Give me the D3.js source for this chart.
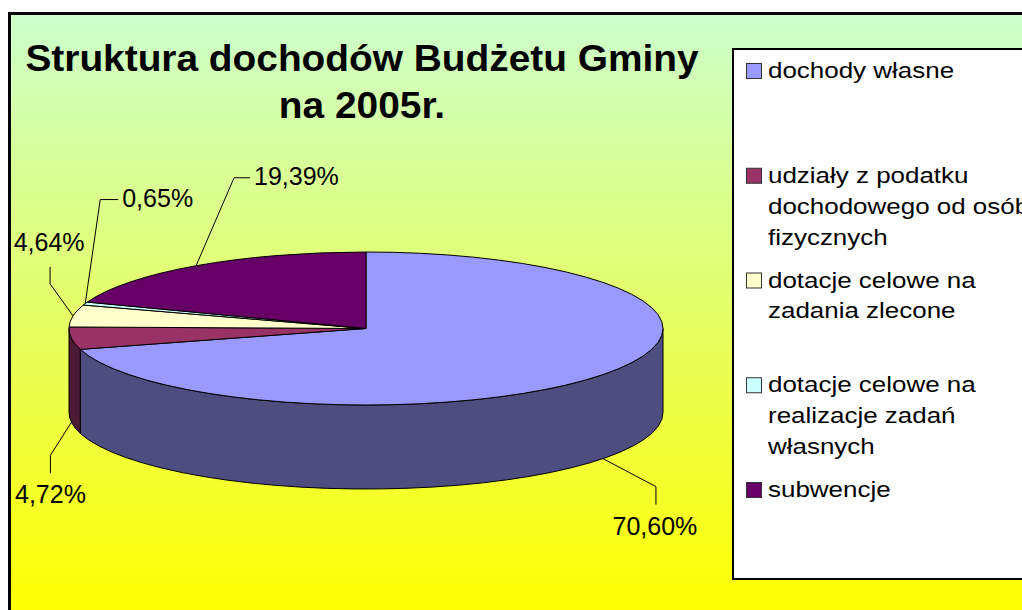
<!DOCTYPE html>
<html>
<head>
<meta charset="utf-8">
<script src="https://cdn.jsdelivr.net/npm/d3@7"></script>
<style>
  body { margin: 0; background: #fff; }
  svg { display: block; font-family: Arial, "Liberation Sans", sans-serif; }
</style>
</head>
<body>
<svg width="1022" height="610"></svg>
<script>
// dane wykresu
var categories = ["dochody własne",
                  "udziały z podatku dochodowego od osób fizycznych",
                  "dotacje celowe na zadania zlecone",
                  "dotacje celowe na realizacje zadań własnych",
                  "subwencje"];
var values = [70.60, 4.72, 4.64, 0.65, 19.39];
var labels = ["70,60%", "4,72%", "4,64%", "0,65%", "19,39%"];
var colors = ["#9999FF", "#993366", "#FFFFCC", "#CCFFFF", "#660066"];
var titleLines = ["Struktura dochodów Budżetu Gminy", "na 2005r."];

var svg = d3.select("svg");

// tło z gradientem
var defs = svg.append("defs");
var grad = defs.append("linearGradient")
    .attr("id", "bg")
    .attr("gradientUnits", "userSpaceOnUse")
    .attr("x1", 0).attr("y1", 14).attr("x2", 0).attr("y2", 615);
grad.append("stop").attr("offset", 0).attr("stop-color", "#CCFFCC");
grad.append("stop").attr("offset", 1).attr("stop-color", "#FFFF00");

svg.append("rect")
    .attr("x", 9.5).attr("y", 13.5)
    .attr("width", 1100).attr("height", 700)
    .attr("fill", "url(#bg)")
    .attr("stroke", "#000")
    .attr("stroke-width", 3);

// tytuł (lekko rozciągnięty w poziomie jak w oryginale)
svg.append("g")
    .attr("transform", "translate(362,0) scale(1.05,1)")
    .selectAll("text")
    .data(titleLines)
    .enter().append("text")
    .attr("x", 0)
    .attr("y", function(d, i) { return 71 + i * 47; })
    .attr("text-anchor", "middle")
    .attr("font-size", 37)
    .attr("font-weight", "bold")
    .text(function(d) { return d; });

// geometria wykresu 3D
var cx = 366, cy = 328.5, rx = 297, ry = 76.5, depth = 84;
var xs = d3.scaleLinear().domain([-1, 1]).range([cx - rx, cx + rx]);
var ys = d3.scaleLinear().domain([-1, 1]).range([cy - ry, cy + ry]);

function pt(a, dy) {
    return [xs(Math.sin(a)), ys(-Math.cos(a)) + (dy || 0)];
}

var pie = d3.pie().sort(null).value(function(d) { return d; });
var arcs = pie(values);

function shade(c) {
    var col = d3.rgb(c);
    return d3.rgb(col.r * 0.5, col.g * 0.5, col.b * 0.5);
}

var chart = svg.append("g");

// ściany boczne (tylko przednia połowa)
arcs.forEach(function(d, i) {
    var s = Math.max(d.startAngle, Math.PI / 2);
    var e = Math.min(d.endAngle, Math.PI * 3 / 2);
    if (e <= s) return;
    var p0 = pt(s), p1 = pt(e), p2 = pt(e, depth), p3 = pt(s, depth);
    var path = "M" + p0 + " A" + rx + "," + ry + " 0 0 1 " + p1 +
               " L" + p2 + " A" + rx + "," + ry + " 0 0 0 " + p3 + " Z";
    chart.append("path")
        .attr("d", path)
        .attr("fill", shade(colors[i]))
        .attr("stroke", "#000")
        .attr("stroke-width", 1)
        .attr("stroke-linejoin", "round");
});

// górne powierzchnie wycinków
chart.selectAll("path.top")
    .data(arcs)
    .enter().append("path")
    .attr("class", "top")
    .attr("d", function(d) {
        var p0 = pt(d.startAngle), p1 = pt(d.endAngle);
        var large = (d.endAngle - d.startAngle) > Math.PI ? 1 : 0;
        return "M" + cx + "," + cy + " L" + p0 + " A" + rx + "," + ry + " 0 " + large + " 1 " + p1 + " Z";
    })
    .attr("fill", function(d, i) { return colors[i]; })
    .attr("stroke", "#000")
    .attr("stroke-width", 1)
    .attr("stroke-linejoin", "round");

// etykiety z liniami odniesienia (załamanie linii i położenie tekstu względem punktu zaczepienia)
var leader = [
    { elbow: [53, 28],   end: [53, 46],   text: [52, 76],  anchor: "middle" },
    { elbow: [-21, 33],  end: [-21, 51],  text: [-21, 81], anchor: "middle" },
    { elbow: [-23, -32], end: [-23, -49], text: [-24, -65], anchor: "middle" },
    { elbow: [15, -104], end: [33, -104], text: [37, -97], anchor: "start" },
    { elbow: [38, -88],  end: [54, -88],  text: [58, -81], anchor: "start" }
];

var lbl = chart.append("g");
arcs.forEach(function(d, i) {
    var mid = (d.startAngle + d.endAngle) / 2;
    var front = mid > Math.PI / 2 && mid < Math.PI * 3 / 2;
    var a = pt(mid, front ? depth : 0);
    var L = leader[i];
    var e1 = [a[0] + L.elbow[0], a[1] + L.elbow[1]];
    var e2 = [a[0] + L.end[0], a[1] + L.end[1]];
    lbl.append("polyline")
        .attr("points", [a, e1, e2].join(" "))
        .attr("fill", "none")
        .attr("stroke", "#000")
        .attr("stroke-width", 1);
    lbl.append("text")
        .attr("x", a[0] + L.text[0])
        .attr("y", a[1] + L.text[1])
        .attr("text-anchor", L.anchor)
        .attr("font-size", 25)
        .text(labels[i]);
});

// legenda
var legend = svg.append("g");
legend.append("rect")
    .attr("x", 733).attr("y", 49)
    .attr("width", 400).attr("height", 530)
    .attr("fill", "#fff")
    .attr("stroke", "#000")
    .attr("stroke-width", 2);

var stretch = 1.18, maxW = 278, lineH = 31;
categories.forEach(function(name, i) {
    var base = 78 + i * 104.75;
    legend.append("rect")
        .attr("x", 746.5).attr("y", base - 14.5)
        .attr("width", 15).attr("height", 15)
        .attr("fill", colors[i])
        .attr("stroke", "#333")
        .attr("stroke-width", 1);
    var g = legend.append("g")
        .attr("transform", "translate(768," + base + ") scale(" + stretch + ",1)");
    // zawijanie tekstu wg szerokości
    var words = name.split(" "), line = [], n = 0;
    var t = g.append("text").attr("font-size", 22);
    words.forEach(function(w) {
        line.push(w);
        t.text(line.join(" "));
        if (t.node().getComputedTextLength() * stretch > maxW && line.length > 1) {
            line.pop();
            t.text(line.join(" "));
            n++;
            line = [w];
            t = g.append("text").attr("font-size", 22).attr("y", n * lineH).text(w);
        }
    });
});
</script>
</body>
</html>
